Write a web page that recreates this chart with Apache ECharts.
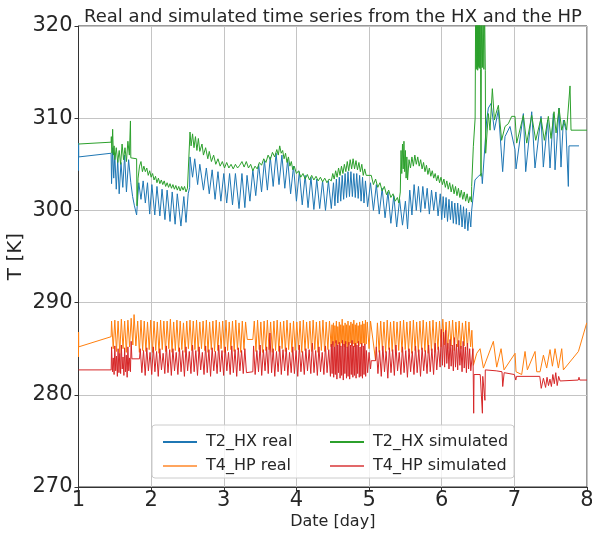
<!DOCTYPE html>
<html>
<head>
<meta charset="utf-8">
<script src="https://cdn.jsdelivr.net/npm/echarts@6/dist/echarts.min.js"></script>
<style>html,body{margin:0;padding:0;background:#fff}#c{width:592px;height:534px}</style>
</head>
<body>
<div id="c"></div>
<script>
const titleText = 'Real and simulated time series from the HX and the HP';
const seriesNames = ['T2_HX real', 'T4_HP real', 'T2_HX simulated', 'T4_HP simulated'];
const xTicks = [1, 2, 3, 4, 5, 6, 7, 8];
const yTicks = [270, 280, 290, 300, 310, 320];

const t2Real = [
[1.000,304.3],[1.001,307.3],[1.003,305.8],[1.449,306.2],
[1.455,302.9],[1.470,306.8],[1.485,303.5],[1.500,306.0],[1.520,302.3],[1.540,305.5],[1.560,301.8],[1.585,305.2],[1.610,302.5],[1.635,306.0],[1.660,302.0],[1.690,305.5],[1.720,303.0],[1.745,301.5],[1.770,300.5],[1.800,299.5],
[1.830,303.0],[1.860,301.2],[1.890,303.2],[1.920,300.8],[1.950,303.0],[1.980,299.6],[2.010,302.8],[2.050,299.5],[2.080,302.6],[2.120,299.4],[2.150,302.3],[2.190,299.0],[2.220,302.2],[2.260,298.8],[2.290,302.0],[2.330,298.5],[2.360,301.8],[2.410,298.3],[2.450,301.5],[2.480,298.7],[2.510,301.8],[2.530,302.5],
[2.535,305.8],[2.570,303.6],[2.600,305.6],[2.640,302.8],[2.670,305.0],[2.720,302.2],[2.760,304.6],[2.800,301.8],[2.840,304.4],[2.880,301.2],[2.920,304.2],[2.960,301.0],[3.000,304.0],[3.040,300.8],[3.080,304.0],[3.120,300.6],[3.160,304.0],[3.210,300.2],
[3.250,304.0],[3.290,300.3],[3.320,303.8],[3.360,301.0],[3.400,304.4],[3.440,301.6],[3.480,305.0],[3.520,302.0],[3.560,305.4],[3.600,302.2],[3.640,305.8],[3.680,302.6],[3.720,306.2],[3.760,302.8],[3.800,306.0],[3.840,302.4],[3.880,305.5],[3.920,301.8],[3.960,304.8],[4.000,301.0],
[4.040,304.2],[4.080,300.6],[4.120,303.8],[4.160,300.3],[4.200,303.6],[4.240,300.1],[4.280,303.4],[4.320,300.2],[4.360,303.2],[4.400,300.0],[4.440,303.2],[4.480,300.2],
[4.510,303.0],[4.530,300.5],[4.550,303.4],[4.570,300.8],[4.590,303.6],[4.610,301.0],[4.630,303.8],[4.650,301.2],[4.670,304.0],[4.690,301.4],[4.710,304.2],[4.730,301.5],[4.750,304.2],[4.770,301.5],[4.790,304.0],[4.810,301.4],[4.830,304.0],[4.850,301.3],[4.870,303.8],[4.890,301.0],[4.910,303.6],[4.930,300.8],[4.950,303.2],
[4.980,300.4],[5.020,303.0],[5.060,300.0],[5.100,302.8],[5.140,299.6],[5.180,302.4],[5.220,299.2],[5.260,302.0],[5.300,298.6],[5.340,301.6],[5.380,298.2],[5.420,301.2],[5.460,298.4],[5.500,301.0],[5.530,298.0],
[5.560,302.2],[5.590,299.5],[5.620,302.8],[5.650,300.0],[5.680,302.6],[5.710,299.8],[5.740,302.6],[5.770,300.2],[5.800,302.4],[5.830,299.6],[5.860,302.2],[5.890,300.0],[5.920,302.0],[5.950,299.4],[5.980,301.8],[6.000,299.0],
[6.020,301.5],[6.040,299.2],[6.060,301.4],[6.080,298.8],[6.100,301.2],[6.120,299.0],[6.140,301.0],[6.160,298.6],[6.180,300.8],[6.200,298.5],[6.220,300.8],[6.240,298.4],[6.260,300.6],[6.280,298.2],[6.300,300.4],[6.320,298.0],[6.340,300.2],[6.360,297.8],[6.380,299.8],[6.400,298.2],
[6.412,300.0],[6.458,303.3],[6.504,303.7],[6.550,304.0],[6.559,302.9],[6.619,309.8],[6.642,311.1],[6.679,311.6],[6.725,308.7],[6.780,310.9],[6.839,304.2],[6.871,308.0],[6.940,309.1],[7.009,306.6],[7.023,304.5],[7.124,310.5],[7.156,304.2],[7.239,310.7],[7.284,304.6],[7.367,310.2],[7.399,304.7],[7.459,309.8],[7.491,304.6],[7.537,310.5],[7.560,304.4],[7.615,311.1],[7.642,304.7],[7.675,309.8],[7.711,308.7],[7.743,302.6],[7.752,307.0],[7.890,307.0]
];

const t4Real = [
[1.000,284.1],[1.001,286.8],[1.003,285.2],[1.449,286.3],
[1.455,288.0],[1.478,285.0],[1.500,288.1],[1.523,284.7],[1.545,288.0],[1.568,284.5],[1.590,288.2],[1.613,285.0],[1.635,288.0],[1.658,284.6],[1.680,288.1],[1.703,285.2],[1.725,288.3],[1.748,285.4],[1.765,288.7],[1.790,285.3],
[1.815,288.0],[1.838,284.6],[1.860,288.1],[1.883,284.8],[1.905,288.0],[1.928,284.7],[1.950,287.9],[1.973,284.9],[1.995,288.1],[2.018,284.6],[2.040,288.0],[2.063,284.8],[2.085,287.9],[2.108,284.5],[2.130,288.1],[2.153,284.9],[2.175,288.0],[2.198,284.7],[2.220,288.0],[2.243,285.0],[2.265,288.2],[2.288,284.6],[2.310,287.9],[2.333,284.8],[2.355,288.1],[2.378,284.7],[2.400,288.0],[2.423,284.9],[2.445,287.8],[2.468,284.6],[2.490,288.0],[2.513,285.0],
[2.535,288.1],[2.558,284.8],[2.580,288.0],[2.603,284.9],[2.625,288.1],[2.648,284.7],[2.670,287.9],[2.693,285.0],[2.715,288.0],[2.738,284.8],[2.760,288.1],[2.783,284.6],[2.805,287.9],[2.828,284.9],[2.850,288.0],[2.873,284.7],[2.895,288.1],[2.918,284.8],[2.940,287.9],[2.963,285.0],[2.985,288.0],[3.008,284.6],
[3.030,288.1],[3.053,284.8],[3.075,287.9],[3.098,284.9],[3.120,288.0],[3.143,284.7],[3.165,288.1],[3.188,284.9],[3.210,287.8],[3.233,284.6],[3.255,288.0],[3.278,284.9],[3.300,287.9],[3.323,286.0],[3.400,286.0],
[3.420,288.0],[3.443,284.7],[3.465,288.1],[3.488,284.9],[3.510,287.9],[3.533,284.6],[3.555,288.0],[3.578,284.8],[3.600,288.1],[3.623,284.9],[3.645,287.9],[3.668,284.6],[3.690,288.0],[3.713,284.8],[3.735,288.1],[3.758,284.7],[3.780,287.9],[3.803,285.0],[3.825,288.0],[3.848,284.7],[3.870,288.1],[3.893,284.9],[3.915,287.8],[3.938,284.6],[3.960,288.0],[3.983,284.8],
[4.005,287.9],[4.028,284.9],[4.050,288.0],[4.073,284.6],[4.095,288.1],[4.118,284.8],[4.140,287.9],[4.163,285.0],[4.185,288.0],[4.208,284.7],[4.230,288.1],[4.253,284.9],[4.275,287.9],[4.298,284.6],[4.320,288.0],[4.343,284.8],[4.365,288.1],[4.388,284.7],[4.410,287.9],[4.433,284.9],[4.455,288.0],[4.478,285.2],
[4.490,287.6],[4.500,285.4],[4.510,287.8],[4.520,285.2],[4.530,287.5],[4.540,285.6],[4.550,288.0],[4.560,285.3],[4.570,287.4],[4.580,285.5],[4.590,287.9],[4.600,285.2],[4.610,287.6],[4.620,285.6],[4.630,288.2],[4.640,285.4],[4.650,287.5],[4.660,285.2],[4.670,287.8],[4.680,285.5],[4.690,287.6],[4.700,285.1],[4.710,288.0],[4.720,285.4],[4.730,287.5],[4.740,285.6],[4.750,287.9],[4.760,285.3],[4.770,287.7],[4.780,285.5],[4.790,288.1],[4.800,285.2],[4.810,287.6],[4.820,285.4],[4.830,287.8],[4.840,285.6],[4.850,287.5],[4.860,285.3],[4.870,287.9],[4.880,285.5],[4.890,287.6],[4.900,285.2],[4.910,288.0],[4.920,285.6],[4.930,287.7],[4.940,285.4],[4.950,288.1],[4.960,285.5],
[4.975,287.9],[5.000,285.0],[5.020,288.0],[5.090,283.7],[5.115,287.8],[5.138,284.6],
[5.160,288.0],[5.183,284.8],[5.205,287.9],[5.228,284.6],[5.250,288.1],[5.273,284.9],[5.295,287.9],[5.318,284.7],[5.340,288.0],[5.363,284.5],[5.385,287.9],[5.408,284.8],[5.430,288.0],[5.453,284.6],[5.475,288.1],[5.498,284.9],[5.520,287.9],[5.543,284.7],[5.565,288.0],[5.588,284.5],[5.610,288.1],[5.633,284.8],[5.655,287.9],[5.678,284.6],[5.700,288.0],[5.723,284.9],[5.745,288.1],[5.768,284.7],[5.790,287.9],[5.813,284.5],[5.835,288.0],[5.858,284.8],[5.880,288.1],[5.903,284.6],[5.925,287.9],[5.948,284.9],[5.970,288.0],[5.993,285.2],
[6.015,288.2],[6.038,285.4],[6.060,287.9],[6.083,285.0],[6.105,288.0],[6.128,285.3],[6.150,288.1],[6.173,284.8],[6.195,287.9],[6.218,285.2],[6.240,288.0],[6.263,285.0],[6.285,287.8],[6.308,285.3],[6.330,288.0],[6.353,284.9],[6.375,287.9],[6.398,285.2],[6.415,287.0],
[6.436,283.2],[6.482,284.5],[6.528,285.0],[6.574,282.9],[6.711,285.8],[6.757,283.0],[6.817,285.0],[6.858,282.7],[7.010,284.5],[7.023,282.5],[7.101,282.2],[7.147,284.7],[7.179,282.7],[7.285,284.7],[7.308,282.5],[7.354,282.5],[7.400,284.3],[7.445,282.9],[7.491,284.9],[7.524,283.1],[7.560,285.0],[7.606,282.9],[7.652,285.0],[7.675,282.7],[7.882,284.7],[7.996,287.8]
];

const t2Sim = [
[1.000,307.2],[1.449,307.4],
[1.452,308.0],[1.460,306.2],[1.470,308.8],[1.480,306.0],[1.490,307.0],[1.500,305.5],[1.520,306.8],[1.540,305.2],[1.560,306.5],[1.580,305.0],[1.600,307.2],[1.620,305.5],[1.640,306.8],[1.660,305.3],[1.680,307.5],[1.700,306.0],[1.715,309.7],[1.720,305.7],[1.800,305.6],[1.805,300.5],[1.820,303.5],[1.840,304.8],[1.860,305.3],[1.880,304.2],[1.900,304.8],
[1.920,304.2],[1.940,304.6],[1.960,303.8],[1.980,304.3],[2.000,303.6],[2.020,304.0],[2.040,303.3],[2.060,303.7],[2.080,303.0],[2.100,303.5],[2.120,302.9],[2.140,303.3],[2.160,302.8],[2.180,303.2],[2.200,302.6],[2.220,303.0],[2.240,302.5],[2.260,302.9],[2.280,302.4],[2.300,302.8],[2.320,302.3],[2.340,302.7],[2.360,302.2],[2.380,302.6],[2.400,302.1],[2.420,302.6],[2.440,302.2],[2.460,302.6],[2.480,302.0],[2.500,302.4],[2.520,302.3],
[2.535,308.5],[2.550,307.0],[2.570,308.3],[2.590,306.8],[2.610,308.0],[2.630,306.5],[2.650,307.8],[2.670,306.4],[2.700,307.2],[2.720,306.0],[2.750,306.8],[2.780,305.6],[2.800,306.4],[2.830,305.3],[2.860,306.0],[2.890,305.0],[2.920,305.6],[2.950,304.8],[2.980,305.3],[3.010,304.6],[3.040,305.2],[3.070,304.6],[3.100,305.0],[3.130,304.5],[3.160,305.0],[3.190,304.6],[3.220,304.9],
[3.250,305.3],[3.280,304.7],[3.310,305.3],[3.340,304.6],[3.370,305.0],[3.400,304.3],[3.430,304.8],[3.460,304.5],[3.490,305.2],[3.520,304.9],[3.550,305.6],[3.580,305.2],[3.610,306.0],[3.640,305.5],[3.670,306.3],[3.700,305.8],[3.730,306.6],[3.750,306.0],[3.770,307.0],[3.790,306.2],[3.810,306.5],[3.830,305.6],[3.850,306.2],[3.870,305.2],[3.890,305.8],[3.910,304.8],[3.930,305.3],[3.950,304.4],[3.970,304.8],[4.000,304.0],[4.030,304.3],[4.060,303.6],
[4.090,304.0],[4.120,303.4],[4.150,303.9],[4.180,303.3],[4.210,303.8],[4.240,303.3],[4.270,303.7],[4.300,303.2],[4.330,303.6],[4.360,303.1],[4.390,303.5],[4.420,303.0],[4.450,303.4],
[4.480,303.2],[4.500,304.0],[4.520,303.4],[4.540,304.3],[4.560,303.6],[4.580,304.6],[4.600,303.8],[4.620,304.8],[4.640,304.0],[4.660,305.0],[4.680,304.2],[4.700,305.3],[4.720,304.3],[4.740,305.5],[4.760,304.5],[4.780,305.6],[4.800,304.5],[4.820,305.4],[4.840,304.4],[4.860,305.2],[4.880,304.2],[4.900,305.0],[4.920,303.8],[4.940,304.5],
[4.960,303.8],[5.030,303.8],[5.060,302.8],[5.090,303.4],[5.120,302.5],[5.150,303.0],[5.180,302.1],[5.210,302.6],[5.240,301.7],[5.270,302.2],[5.300,301.4],[5.330,301.8],[5.360,301.0],[5.390,301.4],[5.410,300.8],
[5.430,302.0],[5.440,306.5],[5.450,304.0],[5.460,307.2],[5.470,304.5],[5.480,307.5],[5.490,304.2],[5.500,306.5],[5.510,303.5],[5.520,305.8],[5.530,303.3],
[5.550,305.5],[5.570,304.6],[5.590,305.8],[5.610,304.8],[5.630,306.0],[5.650,305.0],[5.670,305.8],[5.690,304.8],[5.710,305.5],[5.730,304.5],[5.750,305.2],[5.770,304.2],[5.790,304.9],[5.810,303.9],[5.830,304.6],[5.850,303.7],[5.870,304.3],[5.890,303.5],[5.910,304.0],[5.930,303.2],[5.950,303.8],[5.970,303.0],[5.990,303.6],[6.010,302.8],[6.030,303.4],[6.050,302.5],[6.070,303.2],[6.090,302.3],[6.110,303.0],[6.130,302.0],[6.150,302.8],[6.170,301.8],[6.190,302.6],[6.210,301.6],[6.230,302.4],[6.250,301.4],[6.270,302.2],[6.290,301.2],[6.310,302.0],[6.330,301.0],[6.350,301.8],[6.370,300.8],[6.390,301.5],[6.410,300.9],
[6.412,302.6],[6.435,306.9],[6.460,310.0],[6.467,322],[6.475,315.3],[6.480,322],[6.485,315.5],[6.490,322],[6.495,315.2],[6.500,322],[6.505,315.6],[6.510,322],[6.515,315.4],[6.520,322],[6.525,315.5],[6.530,322],[6.535,315.3],[6.541,303.7],[6.545,315.4],[6.550,322],[6.560,315.5],[6.570,322],[6.580,315.3],[6.590,322],[6.600,315.2],[6.605,306.2],[6.642,310.5],[6.665,308.7],[6.697,313.2],[6.725,309.8],[6.747,310.5],[6.780,311.4],[6.825,307.6],[6.871,309.1],[6.917,309.4],[6.963,310.2],[7.009,310.2],[7.032,307.3],[7.124,310.3],[7.170,307.3],[7.239,310.3],[7.294,307.6],[7.367,310.0],[7.413,307.6],[7.468,310.2],[7.505,307.8],[7.546,310.7],[7.574,308.4],[7.615,311.1],[7.652,308.7],[7.689,309.8],[7.720,308.7],[7.766,313.5],[7.780,308.7],[8.000,308.7]
];

const t4Sim = [
[1.000,282.7],[1.450,282.7],[1.455,285.2],[1.468,282.5],[1.478,284.0],[1.490,282.2],[1.500,285.3],[1.512,282.6],[1.523,284.2],[1.535,282.0],[1.545,285.0],[1.557,282.4],[1.568,284.5],[1.580,282.3],[1.590,285.4],[1.602,282.8],[1.613,284.1],[1.625,282.1],[1.635,285.1],[1.647,282.5],[1.658,284.3],[1.670,281.9],[1.680,285.2],[1.692,282.6],[1.703,284.0],[1.715,282.5],[1.725,285.8],[1.735,283.9],[1.840,283.9],
[1.850,285.0],[1.872,282.4],[1.895,284.8],[1.918,282.1],[1.940,285.1],[1.962,282.6],[1.985,284.6],[2.008,282.2],[2.030,285.2],[2.052,282.5],[2.075,284.7],[2.098,282.0],[2.120,285.0],[2.142,282.7],[2.165,284.5],[2.188,282.3],[2.210,285.3],[2.232,282.4],[2.255,284.9],[2.278,282.1],[2.300,285.0],[2.322,282.6],[2.345,284.6],[2.368,282.2],[2.390,285.1],[2.412,282.5],[2.435,284.8],[2.458,282.0],[2.480,285.2],[2.502,282.6],[2.525,284.7],[2.548,282.3],[2.570,285.4],[2.592,282.5],[2.615,284.8],[2.638,282.1],[2.660,285.2],[2.682,282.7],[2.705,284.6],[2.728,282.2],[2.750,285.3],[2.772,282.4],[2.795,284.9],[2.818,282.0],[2.840,285.1],[2.862,282.6],[2.885,284.7],[2.908,282.3],[2.930,285.4],[2.952,282.5],[2.975,284.8],[2.998,282.1],
[3.020,285.2],[3.042,282.6],[3.065,284.6],[3.088,282.2],[3.110,285.3],[3.132,282.4],[3.155,284.9],[3.178,282.0],[3.200,285.1],[3.222,282.6],[3.245,284.8],[3.268,282.3],[3.290,285.0],[3.312,282.4],[3.330,282.4],[3.400,282.5],[3.410,285.3],[3.432,282.2],[3.455,284.8],[3.478,282.5],[3.500,285.4],[3.522,282.1],[3.545,284.9],[3.568,282.6],[3.590,285.2],[3.612,282.3],[3.635,286.7],[3.658,282.4],[3.680,285.0],[3.702,282.0],[3.725,284.7],[3.748,282.5],[3.770,285.3],[3.792,282.2],[3.815,284.9],[3.838,282.6],[3.860,285.1],[3.882,282.1],[3.905,284.6],[3.928,282.4],[3.950,285.2],[3.972,282.3],[3.995,284.8],
[4.018,282.0],[4.040,285.4],[4.062,282.5],[4.085,284.7],[4.108,282.2],[4.130,285.0],[4.152,282.6],[4.175,284.9],[4.198,282.3],[4.220,285.6],[4.242,282.4],[4.265,284.8],[4.288,282.1],[4.310,285.2],[4.332,282.5],[4.355,284.6],[4.378,282.2],[4.400,285.3],[4.422,282.4],[4.445,284.9],[4.468,282.0],
[4.480,285.5],[4.491,282.3],[4.502,285.8],[4.513,281.9],[4.524,285.2],[4.535,282.2],[4.546,285.9],[4.557,281.7],[4.568,285.4],[4.579,282.4],[4.590,285.7],[4.601,281.8],[4.612,285.3],[4.623,282.1],[4.634,285.9],[4.645,281.6],[4.656,285.5],[4.667,282.3],[4.678,285.8],[4.689,281.8],[4.700,285.2],[4.711,282.0],[4.722,285.7],[4.733,281.7],[4.744,285.4],[4.755,282.2],[4.766,285.9],[4.777,281.9],[4.788,285.3],[4.799,282.1],[4.810,285.6],[4.821,281.8],[4.832,285.4],[4.843,282.3],[4.854,285.8],[4.865,281.9],[4.876,285.2],[4.887,282.0],[4.898,285.6],[4.909,281.8],[4.920,285.3],[4.931,282.2],[4.942,285.5],[4.953,282.0],[4.964,284.8],[4.980,282.4],[5.000,284.6],[5.020,282.8],[5.030,283.7],[5.090,283.7],
[5.100,285.2],[5.122,282.3],[5.145,284.8],[5.168,282.0],[5.190,285.3],[5.212,282.5],[5.235,284.7],[5.258,281.8],[5.280,285.1],[5.302,282.4],[5.325,284.9],[5.348,282.1],[5.370,285.4],[5.392,282.6],[5.415,284.6],[5.438,282.2],[5.460,285.2],[5.482,282.4],[5.505,284.8],[5.528,281.9],[5.550,285.0],[5.572,282.5],[5.595,284.7],[5.618,282.2],[5.640,285.3],[5.662,282.4],[5.685,284.9],[5.708,282.0],[5.730,285.1],[5.752,282.6],[5.775,284.8],[5.798,282.3],[5.820,285.4],[5.842,282.5],[5.865,285.0],[5.888,282.2],[5.910,285.6],[5.932,282.7],[5.955,285.2],[5.978,283.0],
[5.995,287.1],[6.010,283.2],[6.025,286.8],[6.040,283.0],[6.055,287.0],[6.070,283.4],[6.085,285.6],[6.100,282.8],[6.115,286.0],[6.130,283.1],[6.145,285.4],[6.160,282.6],[6.175,286.2],[6.190,283.0],[6.205,285.5],[6.220,282.7],[6.235,285.9],[6.250,283.2],[6.265,285.3],[6.280,282.5],[6.295,285.8],[6.310,282.9],[6.325,285.2],[6.340,282.4],[6.355,285.6],[6.370,282.8],[6.385,285.0],[6.400,282.6],
[6.430,285.0],[6.440,278.0],[6.445,282.2],[6.530,282.2],[6.560,278.0],[6.565,282.0],[6.595,279.4],[6.600,282.7],[6.750,282.6],[6.830,282.5],[6.840,280.9],[6.860,282.4],[7.000,282.2],[7.020,281.6],[7.030,282.0],[7.350,282.0],[7.370,280.7],[7.400,281.8],[7.430,280.8],[7.450,281.9],[7.470,281.0],[7.490,281.7],[7.510,280.9],[7.530,282.2],[7.550,281.2],[7.570,282.4],[7.590,281.0],[7.610,282.0],[7.630,281.5],[7.650,281.6],[7.880,281.6],[7.890,281.9],[7.900,281.6],[8.000,281.6]
];

const colors = ['#1f77b4', '#ff7f0e', '#2ca02c', '#d62728'];
const legendColors = ['#1f77b4', '#ffa55e', '#2ca02c', '#e26869'];
const dataSets = [t2Real, t4Real, t2Sim, t4Sim];
const FONT = 'DejaVu Sans';
const TXT = '#262626';

const chart = echarts.init(document.getElementById('c'), null, {renderer: 'canvas'});

const legendCommon = {
  orient: 'vertical', top: 429, itemWidth: 34, itemHeight: 2, itemGap: 8, icon: 'rect', z: 10,
  textStyle: {fontFamily: FONT, fontSize: 16, color: TXT, lineHeight: 16, padding: [0, 0, 0, 4]},
  selectedMode: false
};

chart.setOption({
  animation: false,
  backgroundColor: '#ffffff',
  grid: {left: 78.5, right: 5, top: 26, bottom: 47, show: true, borderColor: '#333333', borderWidth: 1,
         backgroundColor: 'transparent', outerBoundsMode: 'none', containLabel: false},
  graphic: [
    {type: 'text', x: 333, y: 8, z: 10,
     style: {text: titleText, fontFamily: FONT, fontSize: 18, fill: TXT, align: 'center', verticalAlign: 'top'}},
    {type: 'rect', z: 5, shape: {x: 152, y: 425, width: 362, height: 53, r: 3},
     style: {fill: 'rgba(255,255,255,0.8)', stroke: '#cccccc', lineWidth: 1}}
  ],
  legend: [
    Object.assign({}, legendCommon, {left: 158, data: [
      {name: seriesNames[0], itemStyle: {color: legendColors[0]}},
      {name: seriesNames[1], itemStyle: {color: legendColors[1]}}]}),
    Object.assign({}, legendCommon, {left: 325, data: [
      {name: seriesNames[2], itemStyle: {color: legendColors[2]}},
      {name: seriesNames[3], itemStyle: {color: legendColors[3]}}]})
  ],
  xAxis: {
    type: 'value', min: xTicks[0], max: xTicks[xTicks.length - 1], interval: 1,
    name: 'Date [day]', nameLocation: 'middle', nameGap: 27, nameMoveOverlap: false,
    nameTextStyle: {fontFamily: FONT, fontSize: 16, color: TXT},
    axisLine: {show: true, lineStyle: {color: '#333333', width: 1}},
    axisTick: {show: true, length: 4, lineStyle: {color: '#333333'}},
    axisLabel: {fontFamily: FONT, fontSize: 21, color: TXT, margin: 3},
    splitLine: {show: true, lineStyle: {color: '#c4c4c4', width: 1}}
  },
  yAxis: {
    type: 'value', min: yTicks[0], max: yTicks[yTicks.length - 1], interval: 10,
    name: 'T [K]', nameLocation: 'middle', nameGap: 53, nameMoveOverlap: false,
    nameTextStyle: {fontFamily: FONT, fontSize: 20, color: TXT},
    axisLine: {show: true, lineStyle: {color: '#333333', width: 1}},
    axisTick: {show: true, length: 4, lineStyle: {color: '#333333'}},
    axisLabel: {fontFamily: FONT, fontSize: 21, color: TXT, margin: 6},
    splitLine: {show: true, lineStyle: {color: '#c4c4c4', width: 1}}
  },
  series: dataSets.map((d, i) => ({
    name: seriesNames[i], type: 'line', data: d, showSymbol: false, symbol: 'none',
    clip: true, z: 2 + i * 0.1,
    lineStyle: {color: colors[i], width: 1},
    itemStyle: {color: colors[i]},
    emphasis: {disabled: true}
  }))
});
</script>
</body>
</html>
